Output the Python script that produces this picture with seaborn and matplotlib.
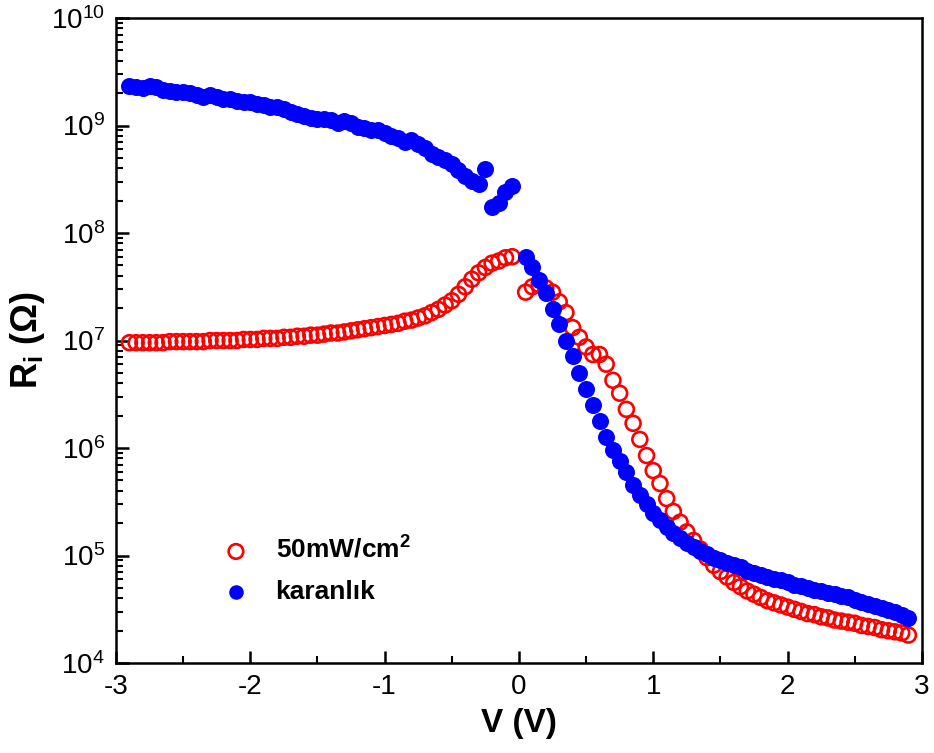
import numpy as np
import pandas as pd
import matplotlib
matplotlib.use("Agg")
import matplotlib.pyplot as plt
import seaborn as sns
from matplotlib.ticker import MultipleLocator, LogLocator, NullFormatter

# ---------------- data ----------------
V_neg = [round(-2.9 + 0.05 * i, 2) for i in range(58)]   # -2.90 ... -0.05
V_pos = [round(0.05 + 0.05 * i, 2) for i in range(58)]   #  0.05 ...  2.90

# log10(R / Ohm), illuminated 50 mW/cm^2
light_log_neg = [6.98, 6.98, 6.98, 6.98, 6.98, 6.98, 6.99, 6.99, 6.99, 6.99,
                 6.99, 6.99, 7.00, 7.00, 7.00, 7.00, 7.00, 7.01, 7.01,
                 7.01, 7.02, 7.02, 7.02, 7.03, 7.03, 7.04, 7.04, 7.05, 7.05,
                 7.06, 7.07, 7.07, 7.08, 7.09, 7.10, 7.11, 7.12, 7.13, 7.14,
                 7.15, 7.16, 7.18, 7.19, 7.21, 7.23, 7.26, 7.29, 7.33, 7.37,
                 7.43, 7.50, 7.57, 7.63, 7.68, 7.72, 7.74, 7.77, 7.78]
light_log_pos = [7.45, 7.50, 7.52, 7.49, 7.45, 7.36, 7.26, 7.12, 7.03, 6.94,
                 6.87, 6.87, 6.78, 6.63, 6.51, 6.36, 6.23, 6.08, 5.93, 5.79,
                 5.67, 5.53, 5.41, 5.31, 5.22, 5.14, 5.06, 4.98, 4.91, 4.85,
                 4.80, 4.75, 4.71, 4.67, 4.64, 4.61, 4.58, 4.56, 4.54, 4.52,
                 4.50, 4.48, 4.46, 4.45, 4.43, 4.42, 4.40, 4.39, 4.38, 4.37,
                 4.35, 4.34, 4.33, 4.31, 4.30, 4.29, 4.28, 4.26]

# log10(R / Ohm), dark (karanlık)
dark_log_neg = [9.37, 9.36, 9.35, 9.37, 9.36, 9.33, 9.32, 9.31, 9.31, 9.30,
                9.28, 9.27, 9.28, 9.27, 9.25, 9.25, 9.23, 9.22, 9.22, 9.20,
                9.19, 9.17, 9.17, 9.15, 9.13, 9.11, 9.09, 9.07, 9.06, 9.06,
                9.05, 9.02, 9.04, 9.02, 8.99, 8.98, 8.96, 8.96, 8.93, 8.90,
                8.88, 8.85, 8.87, 8.83, 8.79, 8.74, 8.71, 8.68, 8.64, 8.59,
                8.53, 8.48, 8.46, 8.60, 8.24, 8.28, 8.38, 8.44]
dark_log_pos = [7.78, 7.68, 7.56, 7.44, 7.29, 7.15, 7.00, 6.86, 6.70, 6.55,
                6.40, 6.25, 6.10, 5.98, 5.88, 5.78, 5.66, 5.56, 5.48, 5.40,
                5.33, 5.27, 5.21, 5.16, 5.12, 5.08, 5.04, 5.01, 4.98, 4.96,
                4.93, 4.91, 4.89, 4.86, 4.84, 4.82, 4.80, 4.78, 4.77, 4.75,
                4.73, 4.72, 4.70, 4.68, 4.67, 4.65, 4.64, 4.62, 4.61, 4.59,
                4.57, 4.55, 4.53, 4.51, 4.49, 4.47, 4.45, 4.42]

label_light = "50mW/cm$^{\\mathbf{2}}$"
label_dark = "karanlık"

light = pd.DataFrame({"V": V_neg + V_pos,
                      "R": 10.0 ** np.array(light_log_neg + light_log_pos)})
dark = pd.DataFrame({"V": V_neg + V_pos,
                     "R": 10.0 ** np.array(dark_log_neg + dark_log_pos)})

# ---------------- style ----------------
sns.set_theme(style="white")
plt.rcParams["font.family"] = ["Liberation Sans", "DejaVu Sans"]
plt.rcParams["mathtext.fontset"] = "custom"
plt.rcParams["mathtext.rm"] = "Liberation Sans"
plt.rcParams["mathtext.bf"] = "Liberation Sans:bold"
plt.rcParams["mathtext.it"] = "Liberation Sans:italic"
plt.rcParams["axes.unicode_minus"] = False
plt.rcParams["text.color"] = "black"
plt.rcParams["axes.labelcolor"] = "black"
plt.rcParams["xtick.color"] = "black"
plt.rcParams["ytick.color"] = "black"

fig = plt.figure(figsize=(9.34, 7.53), dpi=100)
ax = fig.add_axes([0.1242, 0.1195, 0.8628, 0.8565])

sns.scatterplot(data=light, x="V", y="R", ax=ax, marker="o", s=115,
                facecolors="none", edgecolor="#ff0000", linewidth=1.9,
                label=label_light, zorder=2)
sns.scatterplot(data=dark, x="V", y="R", ax=ax, marker="o", s=150,
                color="#0000ff", edgecolor="#0000ff", linewidth=0,
                label=label_dark, zorder=3)

ax.set_yscale("log")
ax.set_xlim(-3, 3)
ax.set_ylim(1e4, 1e10)
ax.xaxis.set_major_locator(MultipleLocator(1))
ax.xaxis.set_minor_locator(MultipleLocator(0.5))
ax.yaxis.set_major_locator(LogLocator(base=10, numticks=20))
ax.yaxis.set_minor_locator(LogLocator(base=10, subs=np.arange(2, 10), numticks=100))
ax.yaxis.set_minor_formatter(NullFormatter())

ax.tick_params(axis="both", which="major", direction="in", length=9, width=1.8,
               labelsize=20, bottom=True, left=True, top=False, right=False,
               pad=8, colors="black")
ax.tick_params(axis="both", which="minor", direction="in", length=5, width=1.5,
               bottom=True, left=True, top=False, right=False)
for sp in ax.spines.values():
    sp.set_linewidth(1.8)
    sp.set_color("black")

ax.set_xlabel("V (V)", fontsize=24, fontweight="bold", labelpad=6)
ax.set_ylabel("R$_{\\mathbf{i}}$ (Ω)", fontsize=26, fontweight="bold", labelpad=3)

leg = ax.legend(loc="upper left", bbox_to_anchor=(0.103, 0.213), frameon=False,
                prop={"weight": "bold", "size": 19}, handletextpad=0.5,
                labelspacing=0.62, borderaxespad=0)
for h in leg.legend_handles:
    h.set_sizes([110])

fig.savefig("out.png", dpi=100)
